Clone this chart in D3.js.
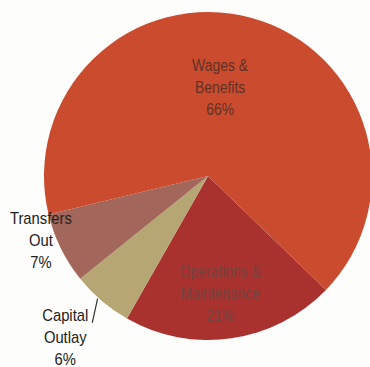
<!DOCTYPE html>
<html>
<head>
<meta charset="utf-8">
<script src="https://cdn.jsdelivr.net/npm/d3@7"></script>
<style>
  html, body { margin: 0; padding: 0; background: #fdfdfb; }
  svg { display: block; }
</style>
</head>
<body>
<svg id="chart" width="370" height="367"></svg>
<script>
// Spending shares, clockwise from the lower-right slice
const categories = ["Operations & Maintenance", "Capital Outlay", "Transfers Out", "Wages & Benefits"];
const shares = [21, 6, 7, 66];
const labelLines = [
  ["Operations &", "Maintenance", "21%"],
  ["Capital", "Outlay", "6%"],
  ["Transfers", "Out", "7%"],
  ["Wages &", "Benefits", "66%"]
];
const sliceColors = ["#a9322f", "#b5a673", "#a2675a", "#cb4b2e"];

const svg = d3.select("#chart");
const cx = 208, cy = 176, radius = 164;
const startDeg = 134;

const pie = d3.pie()
  .sort(null)
  .value(d => d)
  .startAngle(startDeg * Math.PI / 180)
  .endAngle((startDeg + 360) * Math.PI / 180);

const arcs = pie(shares);
const arc = d3.arc().innerRadius(0).outerRadius(radius);

const g = svg.append("g").attr("transform", `translate(${cx},${cy})`);

g.selectAll("path.slice")
  .data(arcs)
  .join("path")
  .attr("class", "slice")
  .attr("d", arc)
  .attr("fill", (d, i) => sliceColors[i]);

const polar = (deg, r) => {
  const a = deg * Math.PI / 180;
  return [Math.sin(a) * r, -Math.cos(a) * r];
};

// Label placement: angle in degrees clockwise from 12 o'clock, distance from centre
const labelPolar = [
  { deg: 174, r: 118, color: "#74433f", outside: false },
  { deg: 221.6, r: 215, color: "#222", outside: true },
  { deg: 249, r: 179, color: "#222", outside: true },
  { deg: 7.8, r: 89, color: "#5e3226", outside: false }
];
const lineH = 22;

labelLines.forEach((lines, i) => {
  const p = labelPolar[i];
  const [x, y] = polar(p.deg, p.r);
  const t = g.append("text")
    .attr("transform", `translate(${x},${y}) scale(0.87,1)`)
    .attr("text-anchor", "middle")
    .attr("fill", p.color)
    .attr("font-family", "'Liberation Sans', Arial, sans-serif")
    .attr("font-size", p.outside ? 17 : 16);
  lines.forEach((ln, k) => {
    t.append("tspan")
      .attr("x", 0)
      .attr("y", (k - (lines.length - 1) / 2) * lineH)
      .attr("dy", "0.35em")
      .text(ln);
  });
});

// Leader from the Capital Outlay label to the rim of its slice
const capLabel = polar(labelPolar[1].deg, labelPolar[1].r);
const tip = polar(222, radius + 1);
g.append("line")
  .attr("x1", capLabel[0] + 27).attr("y1", capLabel[1] - 14)
  .attr("x2", tip[0]).attr("y2", tip[1])
  .attr("stroke", "#333")
  .attr("stroke-width", 1.2);
</script>
</body>
</html>
